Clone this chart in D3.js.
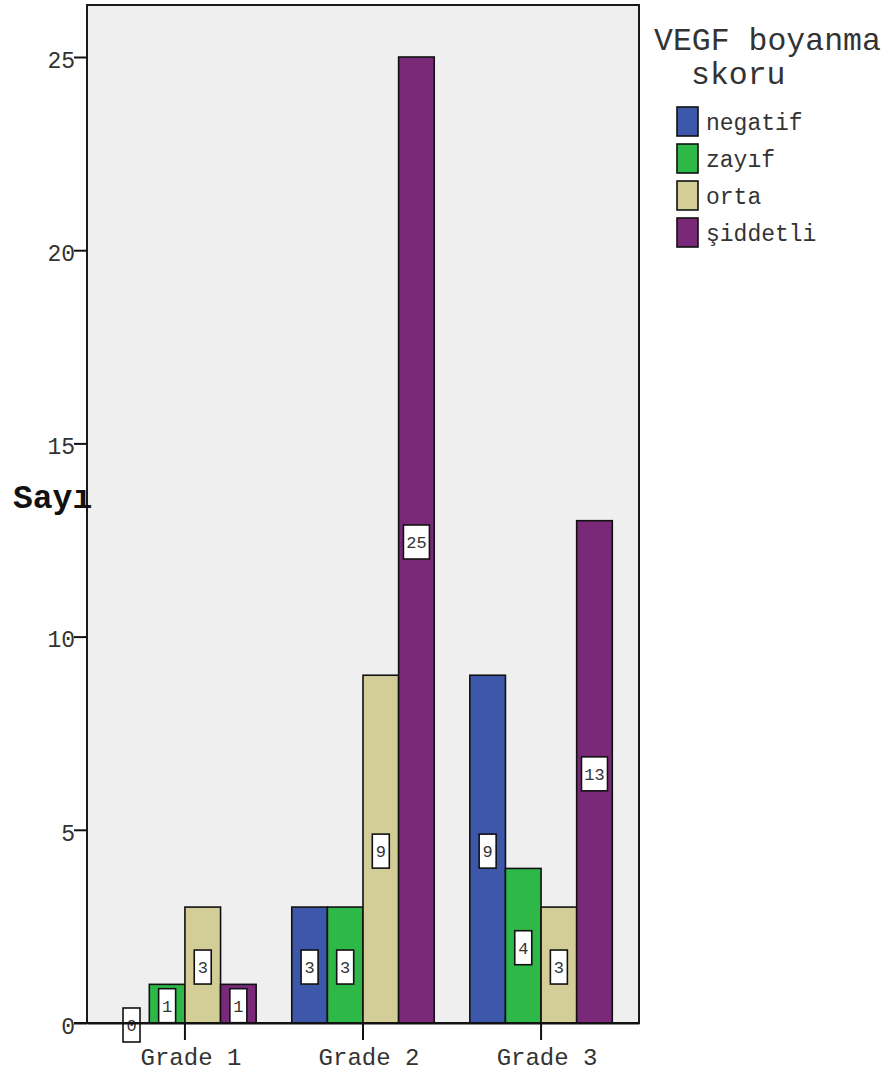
<!DOCTYPE html>
<html>
<head>
<meta charset="utf-8">
<script src="https://cdn.jsdelivr.net/npm/d3@7"></script>
<style>
  html, body { margin: 0; padding: 0; background: #ffffff; }
  svg { display: block; }
  text { font-family: "Liberation Mono", "Courier New", monospace; }
</style>
</head>
<body>
<svg id="chart" width="890" height="1075"></svg>
<script>
// Tumor grade groups and VEGF staining score counts
const categories = ["Grade 1", "Grade 2", "Grade 3"];
const seriesNames = ["negatif", "zayıf", "orta", "şiddetli"];
const negatif = [0, 3, 9];
const zayif = [1, 3, 4];
const orta = [3, 9, 3];
const siddetli = [1, 25, 13];
const yTicks = [0, 5, 10, 15, 20, 25];

const seriesValues = [negatif, zayif, orta, siddetli];
const colors = ["#3d58ab", "#2eb848", "#d3ce98", "#7a2979"];

const svg = d3.select("#chart");

const frame = { left: 87, right: 639, top: 5, bottom: 1023 };

const y = d3.scaleLinear().domain([0, 25]).range([frame.bottom, 57]);
const x0 = d3.scaleBand().domain(categories)
  .range([frame.left, frame.right]).paddingInner(0.2).paddingOuter(0.15);
const x1 = d3.scaleBand().domain(seriesNames).range([0, x0.bandwidth()]);

// Plot background
svg.append("rect")
  .attr("x", frame.left).attr("y", frame.top)
  .attr("width", frame.right - frame.left).attr("height", frame.bottom - frame.top)
  .attr("fill", "#efefef").attr("stroke", "#1a1a1a").attr("stroke-width", 2);

// Bars
const rows = categories.map((c, i) => ({
  cat: c,
  vals: seriesNames.map((s, j) => ({ series: s, value: seriesValues[j][i], color: colors[j] }))
}));

const groups = svg.append("g").selectAll("g").data(rows).join("g")
  .attr("transform", d => `translate(${x0(d.cat)},0)`);

groups.selectAll("rect").data(d => d.vals.filter(v => v.value > 0)).join("rect")
  .attr("x", d => x1(d.series))
  .attr("y", d => y(d.value))
  .attr("width", x1.bandwidth())
  .attr("height", d => y(0) - y(d.value))
  .attr("fill", d => d.color)
  .attr("stroke", "#111")
  .attr("stroke-width", 1.6);

// Y axis
const yAxis = d3.axisLeft(y).tickValues(yTicks).tickSize(13).tickPadding(-1);
const gy = svg.append("g").attr("transform", `translate(${frame.left},0)`).call(yAxis);
gy.select(".domain").remove();
gy.selectAll(".tick line").attr("stroke", "#111").attr("stroke-width", 2);
gy.selectAll(".tick text").attr("font-size", 23).attr("fill", "#333")
  .attr("font-family", "Liberation Mono, monospace")
  .attr("transform", "translate(0,3)");

// X axis
const xAxis = d3.axisBottom(x0).tickSize(17).tickPadding(8).tickSizeOuter(0);
const gx = svg.append("g").attr("transform", `translate(0,${frame.bottom})`).call(xAxis);
gx.select(".domain").attr("stroke", "#111").attr("stroke-width", 2);
gx.selectAll(".tick line").attr("stroke", "#111").attr("stroke-width", 2);
gx.selectAll(".tick text").attr("font-size", 24).attr("fill", "#333")
  .attr("font-family", "Liberation Mono, monospace")
  .attr("dx", 6);

// Baseline extends through the zero tick
svg.append("line")
  .attr("x1", frame.left - 13).attr("x2", frame.right)
  .attr("y1", y(0)).attr("y2", y(0))
  .attr("stroke", "#111").attr("stroke-width", 2);

// Value labels at bar mid-height
const labels = groups.selectAll("g.lbl").data(d => d.vals).join("g")
  .attr("class", "lbl")
  .attr("transform", d => `translate(${x1(d.series) + x1.bandwidth() / 2},${y(d.value / 2) + 2})`);

labels.append("rect")
  .attr("x", d => -(String(d.value).length * 9 + 8) / 2)
  .attr("y", -17)
  .attr("width", d => String(d.value).length * 9 + 8)
  .attr("height", 34)
  .attr("fill", "#ffffff").attr("stroke", "#111").attr("stroke-width", 1.6);

labels.append("text")
  .attr("text-anchor", "middle").attr("dy", "0.36em")
  .attr("font-size", 17).attr("fill", "#333")
  .text(d => d.value);

// Y axis title
svg.append("text")
  .attr("x", 13).attr("y", 508)
  .attr("font-size", 33).attr("font-weight", "bold").attr("fill", "#111")
  .text("Sayı");

// Legend
const legend = svg.append("g");
legend.append("text").attr("x", 654).attr("y", 50)
  .attr("font-size", 31.5).attr("fill", "#333").text("VEGF boyanma");
legend.append("text").attr("x", 691).attr("y", 84)
  .attr("font-size", 31.5).attr("fill", "#333").text("skoru");

const items = legend.selectAll("g.item").data(seriesNames).join("g")
  .attr("class", "item")
  .attr("transform", (d, i) => `translate(677,${107 + i * 37})`);
items.append("rect")
  .attr("width", 21).attr("height", 29)
  .attr("fill", (d, i) => colors[i]).attr("stroke", "#111").attr("stroke-width", 1.6);
items.append("text")
  .attr("x", 29).attr("y", 23)
  .attr("font-size", 23).attr("fill", "#333")
  .text(d => d);
</script>
</body>
</html>
